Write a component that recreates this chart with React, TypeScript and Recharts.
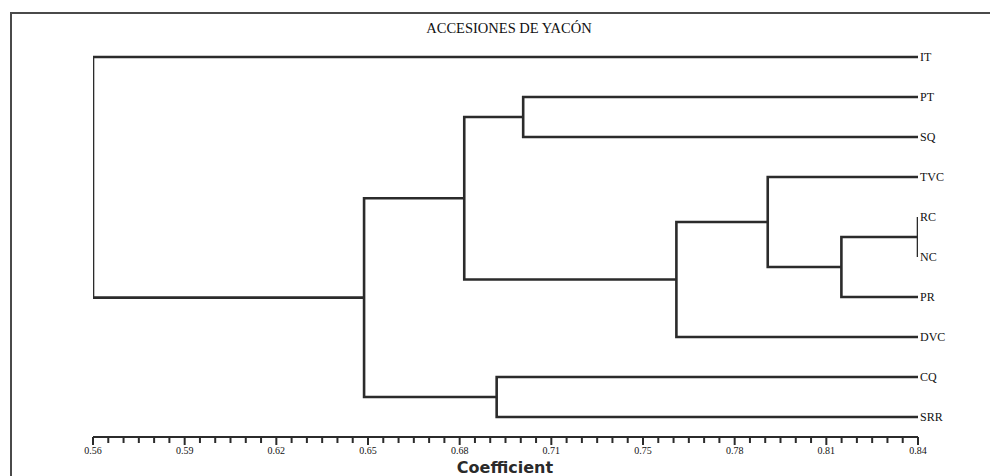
import { LineChart, Line, XAxis, YAxis } from "recharts";

// leaves, top to bottom
const leaves = ["IT", "PT", "SQ", "TVC", "RC", "NC", "PR", "DVC", "CQ", "SRR"];

// merges in order: ids 0-9 are leaves, each merge makes a new id (10, 11, ...)
const mergeA = [4, 10, 3, 12, 1, 8, 14, 16, 0];
const mergeB = [5, 6, 11, 7, 2, 9, 13, 15, 17];
const mergeHeight = [0.84, 0.814, 0.789, 0.758, 0.706, 0.697, 0.686, 0.652, 0.56];

const leafEnd = 0.84;
const axisMin = 0.56;
const axisMax = 0.84;

const tickLabels = ["0.56", "0.59", "0.62", "0.65", "0.68", "0.71", "0.75", "0.78", "0.81", "0.84"];
const minorPerMajor = 6;

const INK = "#2b2b2b";

type Pt = { x: number; y: number };

function buildLinks(): Pt[][] {
  const xs: number[] = leaves.map(() => leafEnd);
  const ys: number[] = leaves.map((_, i) => i);
  const links: Pt[][] = [];
  mergeHeight.forEach((h, i) => {
    const a = mergeA[i];
    const b = mergeB[i];
    links.push([
      { x: xs[a], y: ys[a] },
      { x: h, y: ys[a] },
      { x: h, y: ys[b] },
      { x: xs[b], y: ys[b] },
    ]);
    xs.push(h);
    ys.push((ys[a] + ys[b]) / 2);
  });
  return links;
}

const links = buildLinks();

const step = (axisMax - axisMin) / ((tickLabels.length - 1) * minorPerMajor);
const xTicks = Array.from({ length: (tickLabels.length - 1) * minorPerMajor + 1 }, (_, i) => axisMin + i * step);

const AxisTick = (props: any) => {
  const { x, y, payload } = props;
  const idx = Math.round((payload.value - axisMin) / step);
  const major = idx % minorPerMajor === 0;
  return (
    <g>
      <line x1={x} x2={x} y1={y} y2={y + (major ? 8 : 6)} stroke={INK} strokeWidth={2} />
      {major && (
        <text
          x={x}
          y={y + 17}
          textAnchor="middle"
          fontFamily="Liberation Serif"
          fontSize={10}
          fill="#111"
        >
          {tickLabels[idx / minorPerMajor]}
        </text>
      )}
    </g>
  );
};

export default function App() {
  return (
    <div
      style={{
        position: "fixed",
        left: 0,
        top: 0,
        width: 990,
        height: 476,
        overflow: "hidden",
        background: "#fff",
      }}
    >
      <div
        style={{
          position: "absolute",
          left: 10,
          top: 12,
          width: 1100,
          height: 600,
          borderLeft: "2px solid #4a4a4a",
          borderTop: "2px solid #4a4a4a",
        }}
      />
      <div style={{ position: "absolute", left: 0, top: 0 }}>
        <LineChart width={990} height={476} margin={{ top: 57, right: 22, bottom: 9, left: 93 }}>
          <XAxis
            type="number"
            dataKey="x"
            domain={[axisMin, axisMax]}
            allowDataOverflow
            ticks={xTicks}
            interval={0}
            tick={<AxisTick />}
            tickLine={false}
            tickSize={0}
            tickMargin={0}
            axisLine={{ stroke: INK, strokeWidth: 2 }}
            height={30}
          />
          <YAxis
            type="number"
            orientation="right"
            domain={[0, 9.5]}
            reversed
            ticks={leaves.map((_, i) => i)}
            interval={0}
            tickFormatter={(v: number) => leaves[v] ?? ""}
            tickLine={false}
            axisLine={false}
            tickSize={0}
            tickMargin={2}
            width={50}
            tick={{ fontFamily: "Liberation Serif", fontSize: 12, fill: "#111" }}
          />
          {links.map((pts, i) => (
            <Line
              key={i}
              data={pts}
              dataKey="y"
              type="linear"
              stroke={INK}
              strokeWidth={2.6}
              strokeLinejoin="miter"
              dot={false}
              activeDot={false}
              isAnimationActive={false}
            />
          ))}
        </LineChart>
      </div>
      <svg
        width={990}
        height={476}
        style={{ position: "absolute", left: 0, top: 0, pointerEvents: "none" }}
      >
        <text x={509} y={33} textAnchor="middle" fontFamily="Liberation Serif" fontSize={14.5} fill="#111">
          ACCESIONES DE YACÓN
        </text>
        <text
          x={505}
          y={473}
          textAnchor="middle"
          fontFamily="DejaVu Sans"
          fontWeight="bold"
          fontSize={16}
          fill="#2a2a2a"
        >
          Coefficient
        </text>
      </svg>
    </div>
  );
}
